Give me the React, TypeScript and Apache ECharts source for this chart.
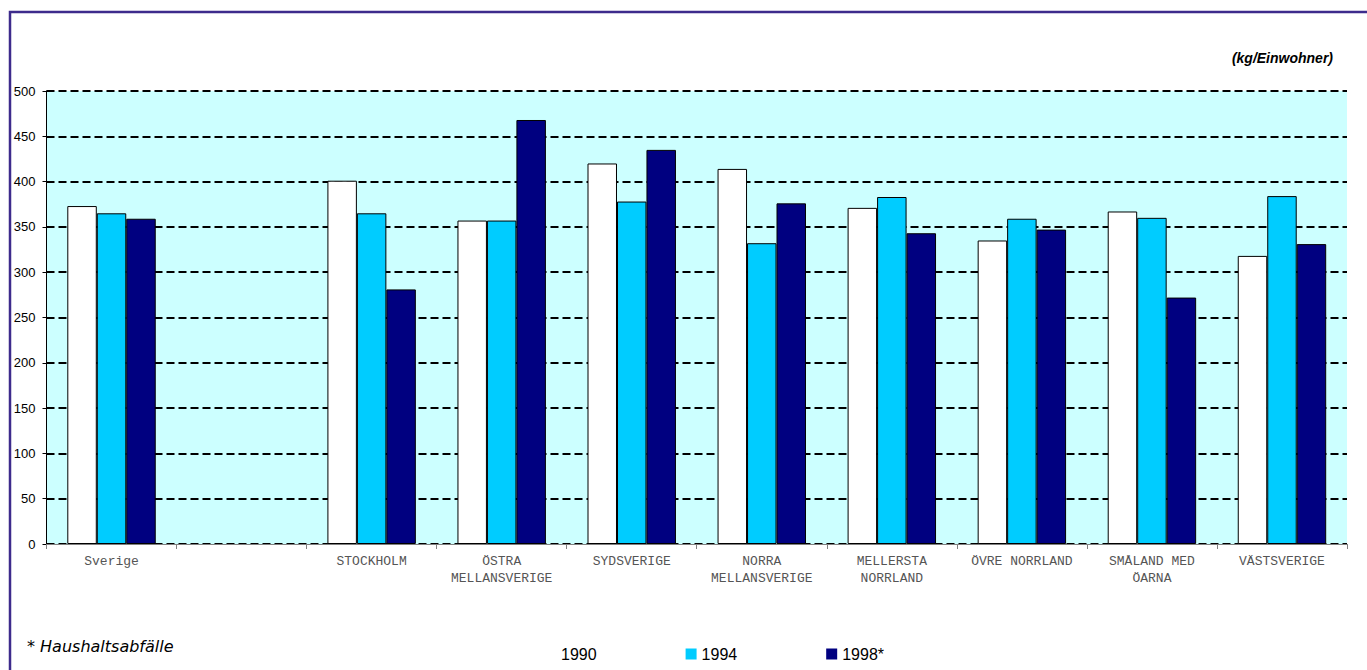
import React, { useEffect, useRef } from "react";
import * as echarts from "echarts";

// Regions (the empty entry leaves a gap after the national total)
const categories: string[] = [
  "Sverige",
  "",
  "STOCKHOLM",
  "ÖSTRA\nMELLANSVERIGE",
  "SYDSVERIGE",
  "NORRA\nMELLANSVERIGE",
  "MELLERSTA\nNORRLAND",
  "ÖVRE NORRLAND",
  "SMÅLAND MED\nÖARNA",
  "VÄSTSVERIGE",
];

// kg per inhabitant
const values1990: (number | null)[] = [373, null, 401, 357, 420, 414, 371, 335, 367, 318];
const values1994: (number | null)[] = [365, null, 365, 357, 378, 332, 383, 359, 360, 384];
const values1998: (number | null)[] = [359, null, 281, 468, 435, 376, 343, 347, 272, 331];

const seriesNames: string[] = ["1990", "1994", "1998*"];
const seriesColors: string[] = ["#ffffff", "#00ccff", "#000080"];

const yMin = 0;
const yMax = 500;
const yStep = 50;

const unitLabel = "(kg/Einwohner)";
const footnote = "* Haushaltsabfälle";

export default function App() {
  const ref = useRef<HTMLDivElement>(null);

  useEffect(() => {
    if (!ref.current) return;
    const chart = echarts.init(ref.current, undefined, { renderer: "svg" });
    const seriesData = [values1990, values1994, values1998];

    chart.setOption({
      animation: false,
      backgroundColor: "#ffffff",
      grid: {
        left: 46.5,
        right: 20,
        top: 91,
        bottom: 126,
        show: true,
        backgroundColor: "#ccffff",
        borderWidth: 0,
      },
      legend: {
        left: 540,
        top: 641,
        itemWidth: 11,
        itemHeight: 11,
        itemGap: 89,
        icon: "rect",
        itemStyle: { borderWidth: 0 },
        textStyle: {
          fontFamily: "Liberation Sans, Arial, sans-serif",
          fontSize: 16,
          color: "#000",
        },
        data: seriesNames,
      },
      xAxis: {
        type: "category",
        data: categories,
        axisLine: { show: true, lineStyle: { color: "#808080", width: 1 } },
        axisTick: { show: true, length: 5, lineStyle: { color: "#808080" } },
        axisLabel: {
          interval: 0,
          margin: 9,
          fontFamily: "Liberation Mono, monospace",
          fontSize: 13,
          lineHeight: 17,
          color: "#555",
        },
        splitLine: { show: false },
      },
      yAxis: {
        type: "value",
        min: yMin,
        max: yMax,
        interval: yStep,
        axisLine: { show: true, lineStyle: { color: "#000", width: 1 } },
        axisTick: { show: true, length: 4, lineStyle: { color: "#000" } },
        axisLabel: {
          margin: 11,
          fontFamily: "Liberation Sans, Arial, sans-serif",
          fontSize: 13,
          color: "#000",
        },
        splitLine: {
          show: true,
          lineStyle: { color: "#000", width: 2, type: [8, 4] },
        },
      },
      series: seriesNames.map((name, i) => ({
        name,
        type: "bar",
        data: seriesData[i],
        barGap: "0%",
        barCategoryGap: "32%",
        itemStyle: {
          color: seriesColors[i],
          borderColor: "#000",
          borderWidth: 1,
        },
      })),
      graphic: [
        {
          type: "rect",
          shape: { x: 10, y: 12, width: 1400, height: 700 },
          style: { fill: "none", stroke: "#3d2b8c", lineWidth: 2.5 },
          silent: true,
        },
        {
          type: "text",
          x: 1333,
          y: 58,
          style: {
            text: unitLabel,
            align: "right",
            verticalAlign: "middle",
            fontFamily: "Liberation Sans, Arial, sans-serif",
            fontSize: 14,
            fontWeight: "bold",
            fontStyle: "italic",
            fill: "#000",
          },
        },
        {
          type: "text",
          x: 27,
          y: 646,
          style: {
            text: footnote,
            align: "left",
            verticalAlign: "middle",
            fontFamily: "DejaVu Sans, sans-serif",
            fontSize: 16,
            fontStyle: "italic",
            fill: "#000",
          },
        },
      ],
    });

    return () => chart.dispose();
  }, []);

  return (
    <div
      ref={ref}
      style={{ position: "fixed", left: 0, top: 0, width: 1367, height: 670 }}
    />
  );
}
